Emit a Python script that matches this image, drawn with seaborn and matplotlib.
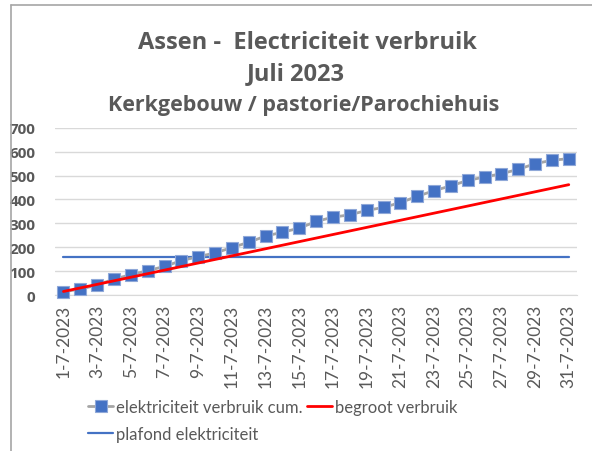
import seaborn as sns
import matplotlib.pyplot as plt
import pandas as pd

# dagen in juli 2023
days = list(range(1, 32))
day_labels = ['{}-7-2023'.format(d) for d in days]

# cumulatief verbruik
verbruik_cum = [14, 25, 42, 67, 85, 102, 120, 144, 161, 176,
                199, 221, 247, 263, 280, 308, 326, 336, 354, 367,
                387, 413, 437, 457, 480, 494, 508, 526, 550, 564, 571]

# begroot verbruik: rechte lijn van dag 1 tot dag 31
begroot_days = [1, 31]
begroot = [15, 462]

# plafond
plafond_days = [1, 31]
plafond = [160, 160]

grey_txt = '#595959'
blue = '#4472C4'

sns.set_style("white")
plt.rcParams['font.family'] = ['Lato', 'DejaVu Sans']
bold_font = ['Open Sans', 'DejaVu Sans']

df = pd.DataFrame({'dag': days, 'cum': verbruik_cum})
df_b = pd.DataFrame({'dag': begroot_days, 'begroot': begroot})
df_p = pd.DataFrame({'dag': plafond_days, 'plafond': plafond})

fig = plt.figure(figsize=(5.92, 4.52), dpi=100)
ax = fig.add_axes([0.093, 0.345, 0.882, 0.37])

sns.lineplot(data=df, x='dag', y='cum', ax=ax, color='#A5A5A5', linewidth=2,
             marker='s', markersize=8.5, markerfacecolor=blue,
             markeredgecolor='#8FA8D8', markeredgewidth=0.8,
             label='elektriciteit verbruik cum.', clip_on=False, zorder=4)
sns.lineplot(data=df_b, x='dag', y='begroot', ax=ax, color='#FF0000',
             linewidth=2, label='begroot verbruik', zorder=5)
sns.lineplot(data=df_p, x='dag', y='plafond', ax=ax, color=blue,
             linewidth=1.6, label='plafond elektriciteit', zorder=3)

ax.set_xlim(0.5, 31.5)
ax.set_ylim(0, 700)
ax.set_yticks(range(0, 701, 100))
ax.set_xticks(days[::2])
ax.set_xticklabels(day_labels[::2], rotation=90, fontsize=12.5, color=grey_txt)
ax.set_xticks([d + 0.5 for d in range(0, 32, 2)], minor=True)
for lab in ax.get_yticklabels():
    lab.set_fontweight('bold')
    lab.set_fontfamily(bold_font)
    lab.set_fontsize(11)
    lab.set_color(grey_txt)
ax.tick_params(axis='x', which='major', length=0, pad=6)
ax.tick_params(axis='x', which='minor', length=5, color='#D9D9D9', width=1)
ax.tick_params(axis='y', length=0, pad=14)
ax.grid(axis='y', color='#D9D9D9', linewidth=1)
ax.set_axisbelow(True)
ax.set_xlabel('')
ax.set_ylabel('')
for s in ['top', 'right', 'left']:
    ax.spines[s].set_visible(False)
ax.spines['bottom'].set_color('#D9D9D9')

# titel
fig.text(0.519, 0.905, 'Assen -  Electriciteit verbruik', ha='center', va='center',
         fontsize=17, fontweight='bold', color=grey_txt, family=bold_font)
fig.text(0.499, 0.837, 'Juli 2023', ha='center', va='center',
         fontsize=17, fontweight='bold', color=grey_txt, family=bold_font)
fig.text(0.513, 0.767, 'Kerkgebouw / pastorie/Parochiehuis', ha='center', va='center',
         fontsize=15.5, fontweight='bold', color=grey_txt, family=bold_font)

# legenda
h, l = ax.get_legend_handles_labels()
ax.get_legend().remove()
leg = fig.legend([h[0], h[2], h[1]], [l[0], l[2], l[1]], ncol=2,
                 loc='upper left', bbox_to_anchor=(0.138, 0.13), frameon=False,
                 fontsize=12, handlelength=1.5, handletextpad=0.15,
                 columnspacing=0.3, labelspacing=0.65, borderaxespad=0)
for t in leg.get_texts():
    t.set_color(grey_txt)

# rand van het grafiekvlak
fig.add_artist(plt.Line2D([0.018, 0.018], [0, 0.987], color='#A6A6A6', linewidth=1.2))
fig.add_artist(plt.Line2D([0.018, 1.0], [0.987, 0.987], color='#A6A6A6', linewidth=1.2))

fig.savefig('out.png', dpi=100)
